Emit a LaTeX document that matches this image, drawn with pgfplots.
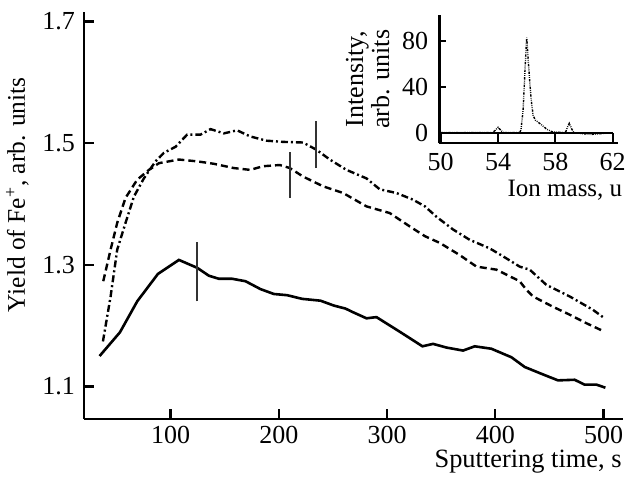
\documentclass[border=0pt]{standalone}
\usepackage{fontspec}
\setmainfont{Liberation Serif}
\usepackage{pgfplots}
\pgfplotsset{compat=1.18}

\begin{document}
\fontsize{13}{15.5}\selectfont
\begin{tikzpicture}
\begin{axis}[
    scale only axis,
    width=269.5pt, height=203.5pt,
    xmin=20, xmax=518, ymin=1.047, ymax=1.716,
    axis lines*=left,
    axis line style={line width=1.2pt},
    tick align=inside,
    major tick length=5pt,
    tick style={line width=1.1pt, black},
    xtick={100,200,300,400,500},
    ytick={1.1,1.3,1.5,1.7},
    yticklabel style={/pgf/number format/.cd, fixed, fixed zerofill, precision=1},
    xticklabel style={inner sep=0.5pt, yshift=-2.9pt},
    /pgf/number format/assume math mode=true,
    ticklabel style={font=\fontsize{13}{15.5}\selectfont},
    xlabel={Sputtering time, s},
    xlabel style={font=\fontsize{13.2}{16}\selectfont, at={(rel axis cs:1,0)}, anchor=base east, inner sep=0pt, xshift=-0.5pt, yshift=-24.6pt},
    ylabel={Yield of Fe\textsuperscript{+}, arb. units},
    ylabel style={font=\fontsize{12.7}{15}\selectfont, at={(ticklabel cs:0.55)}, yshift=-2pt},
    clip=false,
]
% solid
\addplot[black, line width=1.3pt] coordinates {
(34.4,1.150) (53.2,1.189) (69.2,1.240) (88.3,1.285) (107.7,1.308) (124.6,1.295)
(135.4,1.282) (144.6,1.277) (156.9,1.277) (169.2,1.273) (183.1,1.260) (195.4,1.252)
(207.7,1.250) (221.5,1.244) (238.5,1.241) (250.8,1.233) (261.6,1.228) (268.6,1.222)
(281,1.212) (290.2,1.214) (311.7,1.190) (332.7,1.166) (342.5,1.170) (354.8,1.164)
(370.2,1.159) (381,1.166) (396.4,1.162) (414.9,1.148) (427.2,1.132) (441,1.122)
(457.9,1.110) (473.3,1.111) (482.5,1.103) (493.4,1.103) (501.7,1.098)
};
% dashed
\addplot[black, line width=1.2pt, dash pattern=on 3.5pt off 2pt] coordinates {
(37.8,1.273) (44.6,1.325) (50.7,1.369) (58.4,1.410) (69.2,1.440) (80,1.456)
(89.2,1.467) (107.7,1.473) (124.6,1.470) (140,1.466) (158.4,1.459) (173.5,1.456)
(185.5,1.462) (200.9,1.464) (210.2,1.459) (222.4,1.445) (240.9,1.429) (259.4,1.418)
(281,1.396) (302.5,1.385) (321,1.363) (335,1.347) (348.7,1.336) (367.1,1.316)
(382.6,1.297) (401,1.292) (422.5,1.273) (428.7,1.259) (434.8,1.248) (453.3,1.231)
(468.7,1.218) (484.1,1.204) (501,1.190)
};
% dash-dot
\addplot[black, line width=1.2pt, dash pattern=on 3.5pt off 1.5pt on 1pt off 1.5pt] coordinates {
(37.5,1.174) (44.6,1.248) (50.7,1.325) (58.4,1.369) (66.1,1.412) (75.3,1.442)
(86.1,1.470) (93.8,1.484) (104.6,1.494) (115.3,1.514) (127.7,1.514) (136.9,1.523)
(149.2,1.516) (161.5,1.521) (173.5,1.511) (188.6,1.504) (204,1.502) (222.4,1.501)
(234.8,1.489) (247.1,1.473) (262.5,1.456) (281,1.442) (293.3,1.424) (308.7,1.418)
(324,1.407) (335,1.396) (345.6,1.379) (361,1.358) (376.4,1.341) (394.8,1.327)
(407.1,1.314) (422.5,1.297) (431.8,1.292) (447.2,1.267) (468.7,1.248) (490.2,1.226)
(501,1.212)
};
% vertical markers
\addplot[black!80, line width=0.9pt] coordinates {(124.6,1.240) (124.6,1.337)};
\addplot[black!80, line width=0.9pt] coordinates {(210.2,1.410) (210.2,1.486)};
\addplot[black!80, line width=0.9pt] coordinates {(234.2,1.459) (234.2,1.536)};
\end{axis}

% inset spectrum
\begin{axis}[
    at={(177.65pt,137.7pt)}, anchor=south west,
    scale only axis,
    width=89.35pt, height=64.15pt,
    xmin=49.9, xmax=62.37, ymin=-9.26, ymax=102.7,
    axis lines*=left,
    axis line style={line width=1.2pt},
    tick align=inside,
    major tick length=3.5pt,
    tick style={line width=1.1pt, black},
    ytick={0,40,80},
    xtick={50,54,58,62},
    xticklabel style={yshift=-0.5pt},
    yticklabel style={xshift=-1pt},
    /pgf/number format/assume math mode=true,
    ticklabel style={font=\fontsize{13}{15.5}\selectfont},
    xlabel={Ion mass, u},
    xlabel style={font=\fontsize{12.5}{15}\selectfont, at={(rel axis cs:1,0)}, anchor=base east, inner sep=0pt, xshift=2.3pt, yshift=-26.7pt},
    ylabel={Intensity,\\arb. units},
    ylabel style={font=\fontsize{13}{13}\selectfont, align=center, yshift=-2.5pt},
    clip=false,
]
% baseline box at zero
\addplot[black, line width=1.1pt] coordinates {(50,0) (62,0)};
\addplot[black, line width=1.1pt] coordinates {(50,-9.26) (50,0)};
\addplot[black, line width=1.1pt] coordinates {(54,-9.26) (54,0)};
\addplot[black, line width=1.1pt] coordinates {(58,-9.26) (58,0)};
\addplot[black, line width=1.1pt] coordinates {(62,-9.26) (62,0)};
\addplot[black, line width=0.7pt, dash pattern=on 1.2pt off 0.6pt on 0.4pt off 0.6pt on 0.4pt off 0.6pt] coordinates {
(50,0) (53.6,0) (53.8,2) (54,4.7) (54.2,2) (54.4,0) (55.5,0) (55.6,2.4) (55.75,20)
(55.9,60) (56,83) (56.15,55) (56.3,30) (56.45,15) (56.6,11) (57.05,6.7) (57.4,3)
(57.75,0.9) (58.7,0) (58.85,5) (58.97,8.2) (59.15,3) (59.3,0) (60,-1) (60.5,-1.5)
(61,-1) (61.5,-0.5) (62,0)
};
\end{axis}
\pgfresetboundingbox
\path[use as bounding box] (-42pt,-29.15pt) rectangle (271pt,209.35pt);
\end{tikzpicture}
\end{document}
